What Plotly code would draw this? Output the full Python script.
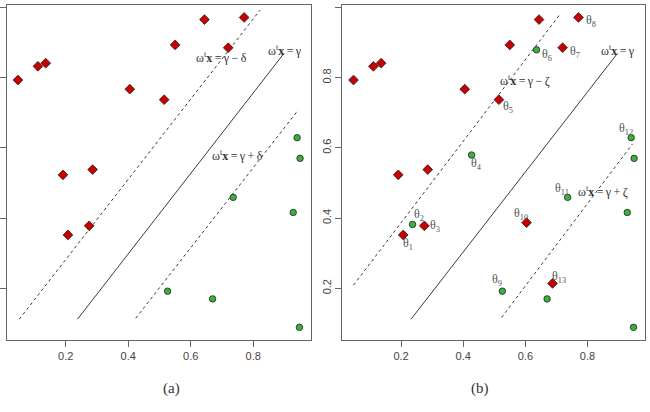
import plotly.graph_objects as go

# ---- data ----
red_x = [0.047, 0.111, 0.136, 0.191, 0.286, 0.405, 0.515, 0.550, 0.644, 0.720, 0.771, 0.207, 0.275]
red_y = [0.793, 0.832, 0.841, 0.523, 0.538, 0.767, 0.737, 0.893, 0.965, 0.885, 0.971, 0.352, 0.378]
green_x = [0.9405, 0.950, 0.736, 0.928, 0.526, 0.670, 0.948]
green_y = [0.629, 0.570, 0.459, 0.416, 0.192, 0.170, 0.089]
extra_red_x = [0.604, 0.6875]
extra_red_y = [0.387, 0.214]
extra_green_x = [0.237, 0.427, 0.636]
extra_green_y = [0.382, 0.5795, 0.879]

# separating lines (endpoints)
a_solid_x, a_solid_y = [0.2375, 0.8986], [0.112, 0.869]
a_up_x, a_up_y = [0.051, 0.822], [0.112, 0.992]
a_lo_x, a_lo_y = [0.424, 0.9446], [0.115, 0.708]
b_solid_x, b_solid_y = [0.232, 0.8965], [0.112, 0.869]
b_up_x, b_up_y = [0.047, 0.714], [0.209, 0.983]
b_lo_x, b_lo_y = [0.5235, 0.9447], [0.117, 0.611]

# labels
theta_names = ["θ<sub>1</sub>", "θ<sub>2</sub>", "θ<sub>3</sub>", "θ<sub>4</sub>", "θ<sub>5</sub>",
               "θ<sub>6</sub>", "θ<sub>7</sub>", "θ<sub>8</sub>", "θ<sub>9</sub>", "θ<sub>10</sub>",
               "θ<sub>11</sub>", "θ<sub>12</sub>", "θ<sub>13</sub>"]
theta_x = [0.2235, 0.259, 0.310, 0.444, 0.543, 0.669, 0.759, 0.811, 0.509, 0.586, 0.717, 0.924, 0.709]
theta_y = [0.326, 0.409, 0.378, 0.553, 0.715, 0.864, 0.874, 0.962, 0.224, 0.412, 0.482, 0.653, 0.231]

S = "\u2009"
eq_a_text = [f"ω<sup>t</sup><b>x</b>{S}={S}γ{S}−{S}δ", f"ω<sup>t</sup><b>x</b>{S}={S}γ", f"ω<sup>t</sup><b>x</b>{S}={S}γ{S}+{S}δ"]
eq_a_x = [0.699, 0.901, 0.750]
eq_a_y = [0.858, 0.876, 0.577]
eq_b_text = [f"ω<sup>t</sup><b>x</b>{S}={S}γ{S}−{S}ζ", f"ω<sup>t</sup><b>x</b>{S}={S}γ", f"ω<sup>t</sup><b>x</b>{S}={S}γ{S}+{S}ζ"]
eq_b_x = [0.600, 0.899, 0.850]
eq_b_y = [0.793, 0.876, 0.477]

x_ticks = [0.2, 0.4, 0.6, 0.8]
y_ticks = [0.2, 0.4, 0.6, 0.8, 1.0]

LINE = "#3a3a3a"
RED = "#c80000"
GREEN = "#3cb03c"
SERIF = "Times New Roman, Liberation Serif, DejaVu Serif, serif"

fig = go.Figure()

def add_lines(xa, ya, sx, sy, ux, uy, lx, ly):
    fig.add_trace(go.Scatter(x=sx, y=sy, mode="lines", line=dict(color=LINE, width=1), xaxis=xa, yaxis=ya, hoverinfo="skip"))
    for xx, yy in ((ux, uy), (lx, ly)):
        fig.add_trace(go.Scatter(x=xx, y=yy, mode="lines", line=dict(color=LINE, width=1, dash="3px,3px"), xaxis=xa, yaxis=ya, hoverinfo="skip"))

def add_points(xa, ya, rx, ry, gx, gy):
    fig.add_trace(go.Scatter(x=rx, y=ry, mode="markers", xaxis=xa, yaxis=ya,
                             marker=dict(symbol="diamond", size=7.5, color=RED, line=dict(color="#222", width=0.8))))
    fig.add_trace(go.Scatter(x=gx, y=gy, mode="markers", xaxis=xa, yaxis=ya,
                             marker=dict(symbol="circle", size=6.5, color=GREEN, line=dict(color="#222", width=0.8))))

add_lines("x", "y", a_solid_x, a_solid_y, a_up_x, a_up_y, a_lo_x, a_lo_y)
add_points("x", "y", red_x, red_y, green_x, green_y)
add_lines("x2", "y2", b_solid_x, b_solid_y, b_up_x, b_up_y, b_lo_x, b_lo_y)
add_points("x2", "y2", red_x + extra_red_x, red_y + extra_red_y, green_x + extra_green_x, green_y + extra_green_y)

annotations = []
for t, x, y in zip(eq_a_text, eq_a_x, eq_a_y):
    annotations.append(dict(text=t, x=x, y=y, xref="x", yref="y", showarrow=False,
                            font=dict(family=SERIF, size=12, color="#333")))
for t, x, y in zip(eq_b_text, eq_b_x, eq_b_y):
    annotations.append(dict(text=t, x=x, y=y, xref="x2", yref="y2", showarrow=False,
                            font=dict(family=SERIF, size=12, color="#333")))
for t, x, y in zip(theta_names, theta_x, theta_y):
    annotations.append(dict(text=t, x=x, y=y, xref="x2", yref="y2", showarrow=False,
                            font=dict(family=SERIF, size=12, color="#555")))
annotations.append(dict(text="(a)", x=0.2477, y=(412 - 399) / 412, xref="paper", yref="paper", showarrow=False,
                        font=dict(family=SERIF, size=15, color="#333")))
annotations.append(dict(text="(b)", x=0.755, y=(412 - 399) / 412, xref="paper", yref="paper", showarrow=False,
                        font=dict(family=SERIF, size=15, color="#333")))

axis_common = dict(showline=True, mirror=True, linecolor="#666", linewidth=1, showgrid=False, zeroline=False,
                   ticks="outside", ticklen=6, tickcolor="#666",
                   tickfont=dict(family="Liberation Sans, Arial, sans-serif", size=11, color="#444"))
xr = [0.011, 0.985]
yr = [0.053, 1.0065]
ydom = [(412 - 340) / 412, (412 - 5) / 412]

fig.update_layout(
    width=650, height=412, margin=dict(l=0, r=0, t=0, b=0),
    paper_bgcolor="white", plot_bgcolor="white", showlegend=False,
    xaxis=dict(domain=[6.7 / 650, 311 / 650], range=xr, tickvals=x_ticks, ticktext=[f"{v:.1f}" for v in x_ticks], **axis_common),
    yaxis=dict(domain=ydom, range=yr, tickvals=y_ticks, showticklabels=False, **axis_common),
    xaxis2=dict(domain=[342.3 / 650, 645 / 650], range=xr, anchor="y2", tickvals=x_ticks, ticktext=[f"{v:.1f}" for v in x_ticks], **axis_common),
    yaxis2=dict(domain=ydom, range=yr, anchor="x2", tickvals=y_ticks, ticktext=[f"{v:.1f}" for v in y_ticks], tickangle=-90, **axis_common),
    annotations=annotations,
)

fig.write_html("out.html")
